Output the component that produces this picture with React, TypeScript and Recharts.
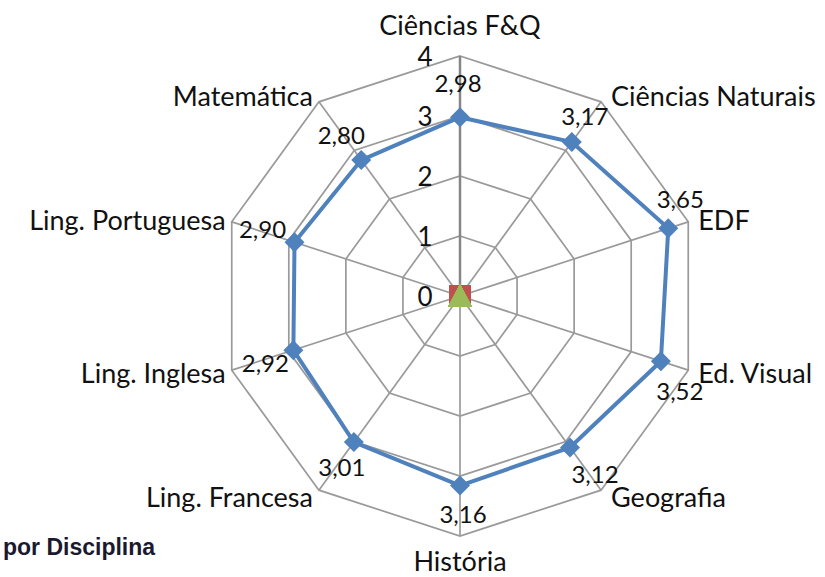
import { RadarChart, Radar, PolarGrid, PolarAngleAxis, PolarRadiusAxis, LabelList } from "recharts";

const subjects = [
  "Ciências F&Q",
  "Ciências Naturais",
  "EDF",
  "Ed. Visual",
  "Geografia",
  "História",
  "Ling. Francesa",
  "Ling. Inglesa",
  "Ling. Portuguesa",
  "Matemática",
];
const mediaScores = [2.98, 3.17, 3.65, 3.52, 3.12, 3.16, 3.01, 2.92, 2.9, 2.8];
const serie2 = [0, 0, 0, 0, 0, 0, 0, 0, 0, 0];
const serie3 = [0, 0, 0, 0, 0, 0, 0, 0, 0, 0];
const radiusTicks = [0, 1, 2, 3, 4];

const data = subjects.map((s, i) => ({
  subject: s,
  media: mediaScores[i],
  s2: serie2[i],
  s3: serie3[i],
}));

const CX = 460;
const CY = 296;
const R = 240;
const FONT = "Lato, 'Open Sans', sans-serif";

// label nudges relative to each point (Excel put them a bit all over the place)
const labelNudge: Array<[number, number]> = [
  [-2, -35],
  [13, -27],
  [12, -30],
  [19, 29],
  [25, 26],
  [3, 28],
  [-12, 24],
  [-28, 12],
  [-32, -14],
  [-20, -26],
];

const fmt = (v: number) => v.toFixed(2).replace(".", ",");

function AngleTick(props: any) {
  const { payload } = props;
  const a = (payload.coordinate * Math.PI) / 180;
  const vx = CX + R * Math.cos(a);
  const vy = CY - R * Math.sin(a);
  const c = Math.cos(a);
  const s = Math.sin(a);
  let x = vx;
  let y = vy;
  let anchor: "start" | "middle" | "end" = "middle";
  if (Math.abs(c) < 0.1) {
    y = s > 0 ? vy - 32 : vy + 24;
  } else {
    anchor = c > 0 ? "start" : "end";
    x = vx + (c > 0 ? 10 : -6);
    y = vy - 8 * s;
  }
  return (
    <text x={x} y={y} textAnchor={anchor} dominantBaseline="central" fontSize={27} fontFamily={FONT} fill="#111">
      {payload.value}
    </text>
  );
}

function RadiusTick(props: any) {
  const { x, y, payload } = props;
  return (
    <text x={x - 35} y={y} textAnchor="middle" dominantBaseline="central" fontSize={26} fontFamily={FONT} fill="#111">
      {payload.value}
    </text>
  );
}

function Diamond(props: any) {
  const { cx, cy } = props;
  const d = 10;
  return <polygon points={`${cx},${cy - d} ${cx + d},${cy} ${cx},${cy + d} ${cx - d},${cy}`} fill="#4F81BD" />;
}

function Square(props: any) {
  const { cx, cy } = props;
  return <rect x={cx - 11} y={cy - 11} width={22} height={22} fill="#C0504D" />;
}

function Triangle(props: any) {
  const { cx, cy } = props;
  return <polygon points={`${cx},${cy - 12} ${cx + 12},${cy + 11} ${cx - 12},${cy + 11}`} fill="#9BBB59" />;
}

function ValueLabel(props: any) {
  const { x, y, value, index } = props;
  const [dx, dy] = labelNudge[index] || [0, 0];
  return (
    <text x={x + dx} y={y + dy} textAnchor="middle" dominantBaseline="central" fontSize={24} fontFamily={FONT} fill="#111">
      {fmt(value)}
    </text>
  );
}

export default function App() {
  return (
    <div style={{ position: "absolute", left: 0, top: 0, width: 825, height: 577, background: "#fff" }}>
      <RadarChart width={825} height={577} data={data} cx={CX} cy={CY} outerRadius={R} margin={{ top: 0, right: 0, bottom: 0, left: 0 }}>
        <PolarGrid gridType="polygon" stroke="#9a9a9a" strokeWidth={1.7} />
        <PolarAngleAxis dataKey="subject" tick={<AngleTick />} tickLine={false} axisLine={false} />
        <PolarRadiusAxis
          angle={90}
          domain={[0, 4]}
          ticks={radiusTicks}
          tickCount={5}
          tick={<RadiusTick />}
          tickLine={false}
          axisLine={{ stroke: "#868686", strokeWidth: 2.5 }}
        />
        <Radar dataKey="media" stroke="#4F81BD" strokeWidth={4} fill="none" fillOpacity={0} dot={<Diamond />} isAnimationActive={false}>
          <LabelList dataKey="media" content={<ValueLabel />} />
        </Radar>
        <Radar dataKey="s2" stroke="#C0504D" strokeWidth={3} fill="none" fillOpacity={0} dot={<Square />} isAnimationActive={false} />
        <Radar dataKey="s3" stroke="#9BBB59" strokeWidth={3} fill="none" fillOpacity={0} dot={<Triangle />} isAnimationActive={false} />
      </RadarChart>
      <div style={{ position: "absolute", left: 3, top: 534, fontFamily: "'Liberation Sans', Arial, sans-serif", fontWeight: 700, fontSize: 23, color: "#1a1a2e" }}>
        por Disciplina
      </div>
    </div>
  );
}
